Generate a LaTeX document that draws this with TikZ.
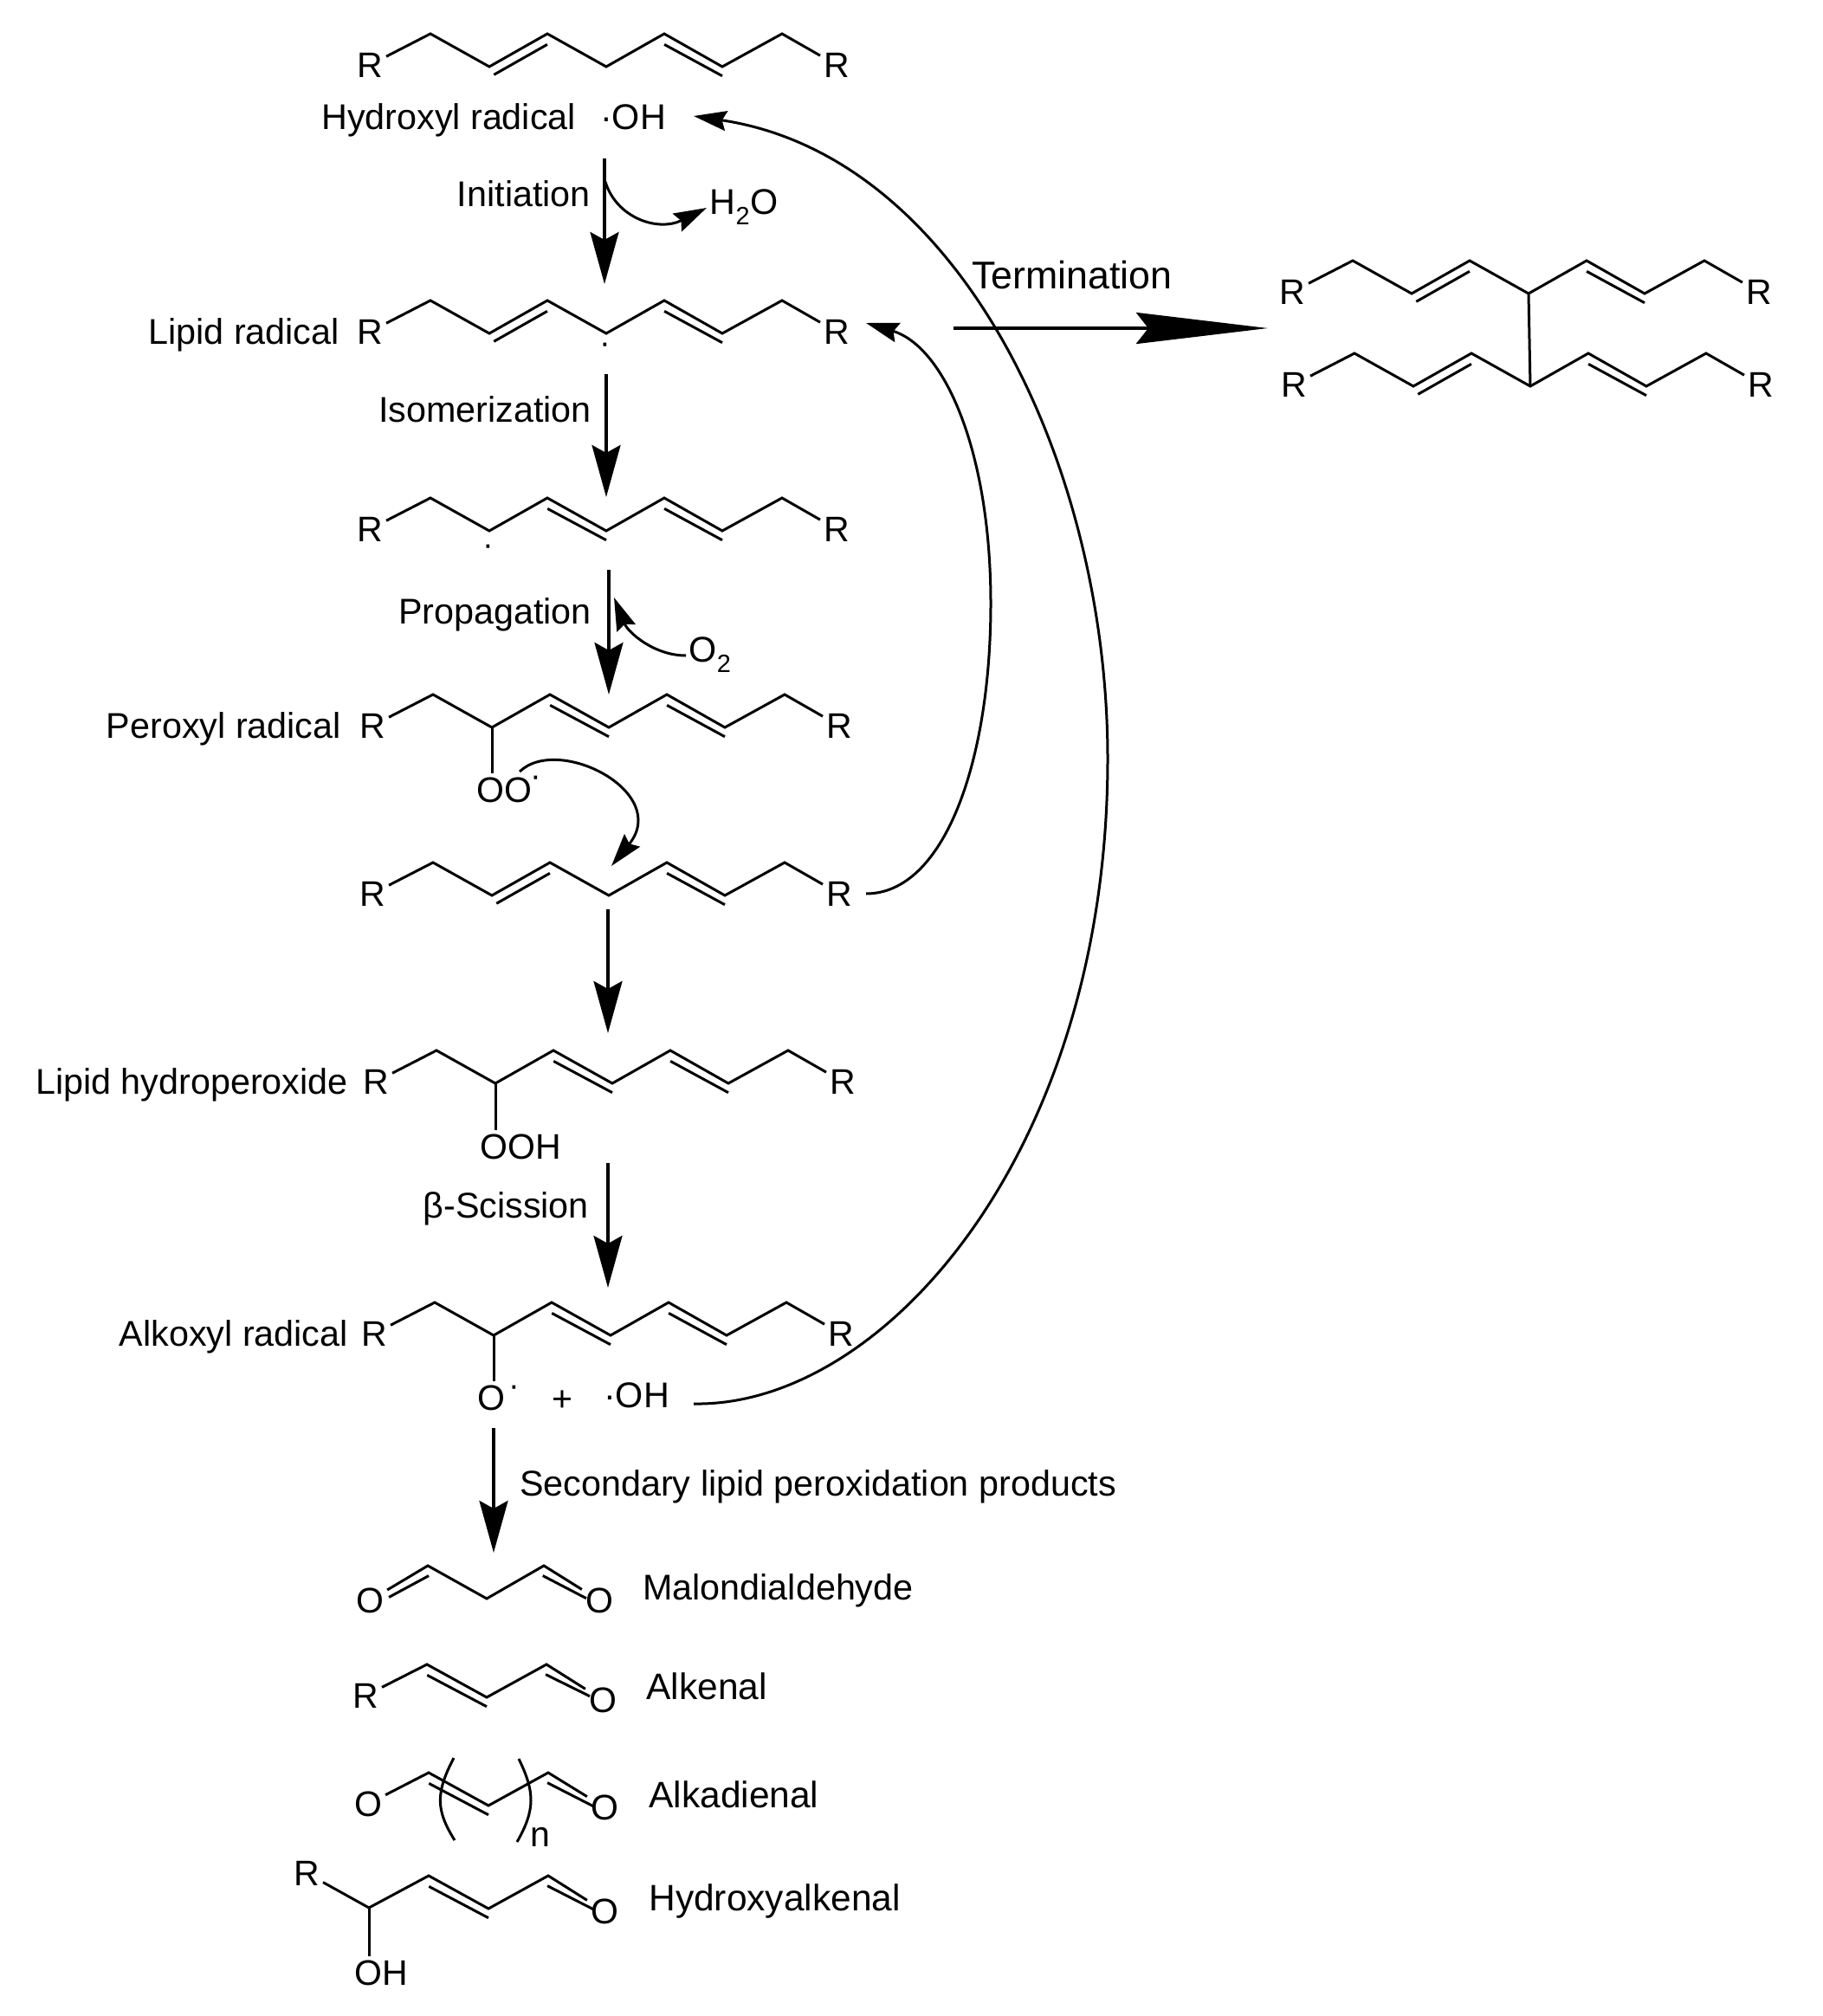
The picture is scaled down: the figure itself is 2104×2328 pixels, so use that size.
\documentclass[tikz,border=0pt]{standalone}
\usepackage{fontspec}
\setmainfont{Liberation Sans}
\usepackage{tikz}
\usetikzlibrary{arrows.meta,calc}
\usetikzlibrary{positioning}

% one lipid backbone: name, x and y of its first upper vertex
\newcommand{\lipidchain}[3]{%
    \foreach \i/\dx/\dy in {0/0/0,1/68/38,2/135/0,3/203/38,4/270/0,5/337/38,6/406/0}
        {\coordinate (#1\i) at (#2+\dx,#3+\dy);}
    \node[atom] (#1L) at (#2-70,#3+36) {R};
    \node[atom] (#1R) at (#2+469,#3+36) {R};
    \draw[bond] (#1L) -- (#10) -- (#11) -- (#12) -- (#13) -- (#14) -- (#15) -- (#16) -- (#1R);
}
% inner line of a double bond
\newcommand{\dblup}[2]{\draw[bond] ($(#1)!0!(#2)!-10.7pt!90:(#2)$) -- ($(#1)!.92!(#2)!-10.7pt!90:(#2)$);}
\newcommand{\dbldown}[2]{\draw[bond] ($(#1)!.08!(#2)!-10.7pt!90:(#2)$) -- ($(#1)!1!(#2)!-10.7pt!90:(#2)$);}

\begin{document}
\begin{tikzpicture} [
    x=1pt, y=-1pt,
    atom/.style={font=\fontsize{41}{44}\selectfont, inner sep=4pt, text height=29pt, text depth=0pt},
    lbl/.style={font=\fontsize{41.3}{44}\selectfont, inner sep=0pt, text height=29pt, text depth=0pt},
    prod/.style={lbl, font=\fontsize{42.5}{45}\selectfont},
    raddot/.style={font=\fontsize{38}{40}\selectfont, inner sep=0pt},
    bond/.style={line width=3pt},
    rxn/.style={line width=3.5pt},
    term/.style={line width=4.5pt, -{Stealth[length=152pt,width=36pt,inset=14pt]}},
    curved/.style={line width=3pt, -{Stealth[length=38pt,width=23pt,inset=5pt]}},
    >={Stealth[length=60pt,width=33pt,inset=9pt]}
    ]
    \useasboundingbox (0,0) rectangle (2104,2328);

    %Chains
    \lipidchain{fa}{497}{39}
    \dblup{fa1}{fa2} \dbldown{fa4}{fa5}
    \lipidchain{lr}{497}{347}
    \dblup{lr1}{lr2} \dbldown{lr4}{lr5}
    \lipidchain{iso}{497}{575}
    \dbldown{iso2}{iso3} \dbldown{iso4}{iso5}
    \lipidchain{per}{500}{802}
    \dbldown{per2}{per3} \dbldown{per4}{per5}
    \lipidchain{nb}{500}{996}
    \dblup{nb1}{nb2} \dbldown{nb4}{nb5}
    \lipidchain{hp}{504}{1213}
    \dbldown{hp2}{hp3} \dbldown{hp4}{hp5}
    \lipidchain{alk}{502}{1504}
    \dbldown{alk2}{alk3} \dbldown{alk4}{alk5}
    \lipidchain{tt}{1562}{301}
    \dblup{tt1}{tt2} \dbldown{tt4}{tt5}
    \lipidchain{tb}{1564}{408}
    \dblup{tb1}{tb2} \dbldown{tb4}{tb5}
    \draw[bond] (tt3) -- (tb3);

    %Labels
    \node[lbl, anchor=west] (hydroxyl) at (371,135) {Hydroxyl radical};
    \node[lbl] (oh) at (731,135) {·OH};
    \node[lbl, anchor=east] (init) at (682,224) {Initiation};
    \node[lbl] (water) at (859,233) {H\textsubscript{2}O};
    \node[lbl] (lipidlbl) [left=16pt of lrL] {Lipid radical};
    \node[raddot] (lrdot) at (699,402) {·};
    \node[lbl, anchor=east] (isomer) at (683,473) {Isomerization};
    \node[raddot] (isodot) at (564,635) {·};
    \node[lbl, anchor=east] (propag) at (683,706) {Propagation};
    \node[lbl] (oxygen) at (820,750) {O\textsubscript{2}};
    \node[lbl] (peroxyl) [left=17pt of perL] {Peroxyl radical};
    \node[atom] (oo) at (582,912) {OO};
    \node[raddot] (oodot) at (619,902) {·};
    \node[lbl] (hydroper) [left=13pt of hpL] {Lipid hydroperoxide};
    \node[atom] (ooh) at (601,1324) {OOH};
    \node[lbl, anchor=east] (scission) at (680,1392) {β-Scission};
    \node[lbl] (alkoxyl) [left=11pt of alkL] {Alkoxyl radical};
    \node[atom] (oalk) at (567,1614) {O};
    \node[raddot] (oalkdot) at (594,1606) {·};
    \node[atom] (plus) at (649,1615) {+};
    \node[lbl] (oh2) at (735,1611) {·OH};
    \node[lbl, anchor=west] (second) at (600,1713) {Secondary lipid peroxidation products};
    \node[lbl, font=\fontsize{44.7}{48}\selectfont] (termlbl) at (1238,319) {Termination};

    %Malondialdehyde
    \coordinate (ma0) at (494,1808);
    \coordinate (ma1) at (562,1846);
    \coordinate (ma2) at (628,1808);
    \coordinate (mal) at (444,1835);
    \coordinate (mar) at (677,1835);
    \node[atom] (mao) at (427,1848) {O};
    \node[atom] (mapo) at (692,1848) {O};
    \node[lbl] (malon) [right=30pt of mapo, yshift=15pt] {Malondialdehyde};
    \draw[bond] (mao) -- (ma0) -- (ma1) -- (ma2) -- (mapo);
    \dblup{mal}{ma0} \dbldown{ma2}{mar}

    %Alkenal
    \coordinate (ke0) at (493,1922);
    \coordinate (ke1) at (562,1960);
    \coordinate (ke2) at (631,1922);
    \coordinate (ker) at (681,1948);
    \node[atom] (keR) at (422,1958) {R};
    \node[atom] (keo) at (696,1963) {O};
    \node[prod] (alkenal) [right=30pt of keo, yshift=15pt] {Alkenal};
    \draw[bond] (keR) -- (ke0) -- (ke1) -- (ke2) -- (keo);
    \dbldown{ke0}{ke1} \dbldown{ke2}{ker}

    %Alkadienal
    \coordinate (di0) at (495,2047);
    \coordinate (di1) at (564,2085);
    \coordinate (di2) at (633,2047);
    \coordinate (dir) at (685,2075);
    \node[atom] (dil) at (425,2083) {O};
    \node[atom] (dio) at (698,2087) {O};
    \node[prod] (alkadienal) [right=31pt of dio, yshift=14pt] {Alkadienal};
    \draw[bond] (dil) -- (di0) -- (di1) -- (di2) -- (dio);
    \dbldown{di0}{di1} \dbldown{di2}{dir}
    \coordinate (bl1) at (524,2030);
    \coordinate (bl2) at (525,2125);
    \coordinate (br1) at (599,2031);
    \coordinate (br2) at (597,2127);
    \draw[bond] (bl1) .. controls (503,2070) and (503,2090) .. (bl2);
    \draw[bond] (br1) .. controls (618,2070) and (618,2090) .. (br2);
    \node[atom, inner sep=0pt, text height=21pt] (rep) at (624,2122) {n};

    %Hydroxyalkenal
    \coordinate (hy0) at (426,2203);
    \coordinate (hy1) at (495,2166);
    \coordinate (hy2) at (564,2204);
    \coordinate (hy3) at (633,2166);
    \coordinate (hyr) at (685,2194);
    \node[atom] (hyR) at (354,2163) {R};
    \node[atom] (hyo) at (698,2207) {O};
    \node[atom] (hyoh) at (440,2278) {OH};
    \node[prod] (hydroxyalk) [right=31pt of hyo, yshift=15pt] {Hydroxyalkenal};
    \draw[bond] (hyR) -- (hy0) -- (hy1) -- (hy2) -- (hy3) -- (hyo);
    \draw[bond] (hy0) -- (hyoh.north -| hy0);
    \dbldown{hy1}{hy2} \dbldown{hy3}{hyr}

    %Lines
    \draw[bond] (per1) -- (oo.north -| per1);
    \draw[bond] (hp1) -- (ooh.north -| hp1);
    \draw[bond] (alk1) -- (oalk.north -| alk1);

    \coordinate (a1) at (698,183);
    \coordinate (a2) at (698,328);
    \coordinate (a3) at (700,432);
    \coordinate (a4) at (700,574);
    \coordinate (a5) at (703,658);
    \coordinate (a6) at (703,802);
    \coordinate (a7) at (702,1050);
    \coordinate (a8) at (702,1193);
    \coordinate (a9) at (702,1343);
    \coordinate (a10) at (702,1487);
    \coordinate (a11) at (570,1649);
    \coordinate (a12) at (570,1793);
    \draw[->,rxn] (a1) -- (a2);
    \draw[->,rxn] (a3) -- (a4);
    \draw[->,rxn] (a5) -- (a6);
    \draw[->,rxn] (a7) -- (a8);
    \draw[->,rxn] (a9) -- (a10);
    \draw[->,rxn] (a11) -- (a12);
    \coordinate (t1) at (1101,379);
    \coordinate (t2) at (1464,379);
    \draw[term] (t1) -- (t2);

    \coordinate (c1) at (699,210);
    \coordinate (c2) at (816,240);
    \draw[curved] (c1) .. controls (712,252) and (760,268) .. (c2);
    \coordinate (c3) at (792,757);
    \coordinate (c4) at (709,690);
    \draw[curved] (c3) .. controls (755,757) and (725,730) .. (c4);
    \coordinate (c5) at (600,891);
    \coordinate (c6) at (706,1000);
    \draw[curved] (c5) .. controls (645,848) and (775,915) .. (c6);
    \coordinate (c7) at (1000,1032);
    \coordinate (c8) at (1000,373);
    \draw[curved] (c7) .. controls (1090,1032) and (1144,880) .. (1144,697) .. controls (1144,520) and (1090,400) .. (c8);
    \coordinate (c9) at (801,1621);
    \coordinate (c10) at (801,134);
    \draw[curved] (c9) .. controls (1020,1625) and (1279,1330) .. (1279,876) .. controls (1279,540) and (1110,180) .. (c10);
\end{tikzpicture}
\end{document}
